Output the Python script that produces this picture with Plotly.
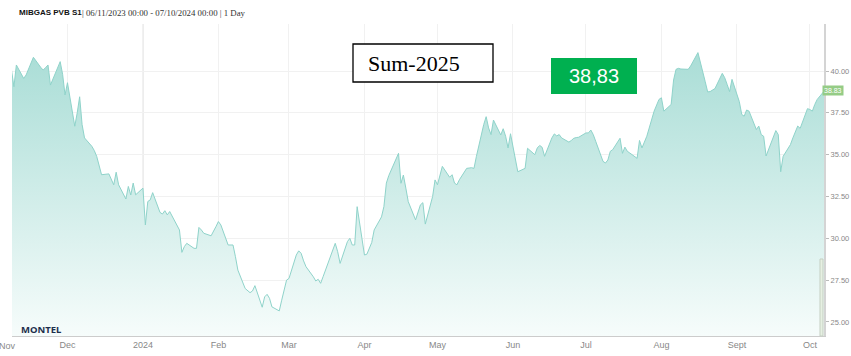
import pandas as pd
import plotly.graph_objects as go

# ---- data, business days per month ----
nov_2023 = [40.06, 39.06, 40.36, 39.56, 39.76, 40.1, 40.5, 40.82, 40.22, 40.06, 40.2, 40.36,
            39.16, 40.3, 40.56, 39.8, 38.57]
dec_2023 = [39.3, 36.7, 37.5, 38.46, 36.8, 36.0, 35.5, 35.25, 34.9, 34.3, 33.8, 33.85, 33.5,
            33.2, 33.95, 33.2, 32.35, 33.1, 32.59, 33.3, 32.6]
jan_2024 = [33.0, 30.8, 32.2, 32.3, 32.73, 31.55, 31.45, 31.65, 31.4, 31.6, 30.7, 30.5, 29.16,
            29.5, 29.7, 29.4, 29.4, 30.65, 30.5, 30.3, 30.15, 30.4, 30.7]
feb_2024 = [31.0, 30.8, 29.6, 29.6, 29.6, 28.9, 28.1, 27.0, 26.9, 26.75, 26.85, 27.17, 25.88,
            26.5, 26.65, 26.41, 25.9, 25.66, 26.3, 26.9, 27.5]
mar_2024 = [27.6, 29.0, 29.25, 29.1, 28.65, 28.3, 27.7, 27.45, 27.55, 27.31, 27.7, 28.95, 29.35,
            29.7, 29.2, 28.5, 29.8, 30.0, 29.6, 29.6, 31.89]
apr_2024 = [29.0, 29.05, 29.4, 29.75, 30.5, 31.28, 31.9, 33.3, 33.75, 34.1, 35.08, 33.29, 33.78,
            33.0, 32.19, 31.1, 31.5, 32.0, 32.13, 30.85, 32.5, 33.49]
may_2024 = [33.2, 33.7, 34.3, 33.65, 33.8, 33.3, 33.2, 33.5, 34.18, 34.2, 34.22, 34.18, 34.9,
            36.8, 37.27, 36.6, 36.2, 37.07, 36.18, 36.55, 36.1, 35.4, 36.25]
jun_2024 = [33.98, 34.05, 34.1, 34.18, 35.38, 35.0, 35.4, 35.55, 35.44, 34.9, 36.0, 36.24, 36.12,
            36.2, 36.0, 35.75, 35.85, 35.98, 36.02, 36.04]
jul_2024 = [36.3, 36.3, 36.47, 36.2, 35.8, 34.6, 34.5, 34.68, 35.2, 35.3, 35.98, 35.08, 35.45,
            35.2, 35.1, 34.78, 35.85, 35.4, 35.75, 36.1, 37.6, 37.9, 38.3]
aug_2024 = [38.4, 37.6, 38.0, 39.46, 40.1, 40.16, 40.12, 40.1, 40.3, 40.6, 40.86, 41.1, 39.36,
            38.75, 38.77, 38.85, 38.95, 39.86, 39.6, 39.2, 38.77, 39.5]
sep_2024 = [38.17, 37.4, 37.3, 37.67, 37.6, 36.5, 36.71, 36.2, 36.1, 34.92, 36.08, 36.44, 36.2,
            33.98, 34.9, 35.6, 36.0, 36.4, 36.71, 36.57, 37.75]
oct_2024 = [37.7, 37.6, 38.0, 38.3, 38.83]

month_windows = [("2023-11-08", "2023-11-30"), ("2023-12-01", "2023-12-31"),
                 ("2024-01-01", "2024-01-31"), ("2024-02-01", "2024-02-29"),
                 ("2024-03-01", "2024-03-31"), ("2024-04-01", "2024-04-30"),
                 ("2024-05-01", "2024-05-31"), ("2024-06-01", "2024-06-30"),
                 ("2024-07-01", "2024-07-31"), ("2024-08-01", "2024-08-31"),
                 ("2024-09-01", "2024-09-30"), ("2024-10-01", "2024-10-07")]
month_values = [nov_2023, dec_2023, jan_2024, feb_2024, mar_2024, apr_2024, may_2024,
                jun_2024, jul_2024, aug_2024, sep_2024, oct_2024]

tick_dates = ["2023-12-01", "2024-01-01", "2024-02-01", "2024-03-01", "2024-04-01",
              "2024-05-01", "2024-06-01", "2024-07-01", "2024-08-01", "2024-09-01", "2024-10-01"]
tick_text = ["Dec", "2024", "Feb", "Mar", "Apr", "May", "Jun", "Jul", "Aug", "Sept", "Oct"]
y_ticks = [25.0, 27.5, 30.0, 32.5, 35.0, 37.5, 40.0]

last_value = 38.83
title_bold = "MIBGAS PVB S1"
title_rest = "| 06/11/2023 00:00 - 07/10/2024 00:00 | 1 Day"
product_label = "Sum-2025"
price_label = "38,83"

dates, values = [], []
for (s, e), vals in zip(month_windows, month_values):
    d = pd.bdate_range(s, e)
    assert len(d) == len(vals), (s, len(d), len(vals))
    dates += list(d)
    values += vals

fig = go.Figure()
fig.add_trace(go.Scatter(
    x=dates, y=values, mode="lines",
    line=dict(color="#8fd3ca", width=1),
    fill="tozeroy",
    fillgradient=dict(type="vertical", start=24.16, stop=41.2,
                      colorscale=[[0, "#f6fcfb"], [1, "#a9ddd6"]]),
    hoverinfo="skip", showlegend=False,
))

fig.update_layout(
    width=851, height=356,
    margin=dict(l=12, r=27, t=24, b=20, autoexpand=False),
    paper_bgcolor="white", plot_bgcolor="white",
    xaxis=dict(
        type="date", automargin=False,
        range=["2023-11-08 05:00", "2024-10-06 19:00"],
        tickvals=tick_dates, ticktext=tick_text,
        tickfont=dict(family="Liberation Sans, Arial", size=9, color="#888888"),
        showgrid=True, gridcolor="#f1f1f1", gridwidth=1,
        showline=True, linecolor="#cccccc", linewidth=1,
        ticks="", zeroline=False,
    ),
    yaxis=dict(
        side="right", automargin=False,
        range=[24.16, 42.81],
        tickvals=y_ticks, ticktext=[f"{v:.2f}" for v in y_ticks],
        tickfont=dict(family="Liberation Sans, Arial", size=7.5, color="#888888"),
        ticks="outside", ticklen=3, tickcolor="#bbbbbb",
        showgrid=True, gridcolor="#f1f1f1", gridwidth=1,
        showline=True, linecolor="#d4d4d4", linewidth=2,
        zeroline=False,
    ),
)

px = lambda v: (v - 12) / 812.0
py = lambda v: (336 - v) / 312.0

shapes = [
    dict(type="line", xref="x", yref="paper", x0="2024-01-01", x1="2024-01-01", y0=0, y1=1,
         line=dict(color="#d6d6d6", width=1), layer="below"),
    dict(type="rect", xref="paper", yref="paper", x0=px(353), x1=px(493), y0=py(82), y1=py(44),
         line=dict(color="black", width=1.3), fillcolor="white"),
    dict(type="rect", xref="paper", yref="paper", x0=px(551), x1=px(637), y0=py(94), y1=py(58),
         line=dict(width=0), fillcolor="#00b050"),
    dict(type="rect", xref="paper", yref="paper", x0=px(820), x1=px(823), y0=0, y1=py(259),
         line=dict(color="#c5cfc2", width=1), fillcolor="#e6f0e2"),
]
fig.update_layout(shapes=shapes)

ann = [
    dict(text="<b>" + title_bold + "</b>", x=px(17), y=py(13), xanchor="left", yanchor="middle",
         font=dict(family="Liberation Sans, Arial", size=8, color="#111111")),
    dict(text=title_rest, x=px(80), y=py(13), xanchor="left", yanchor="middle",
         font=dict(family="Liberation Serif, Times New Roman", size=8.8, color="#333333")),
    dict(text=product_label, x=px(414), y=py(63), xanchor="center", yanchor="middle",
         font=dict(family="Liberation Serif, Times New Roman", size=22, color="black")),
    dict(text=price_label, x=px(594), y=py(76), xanchor="center", yanchor="middle",
         font=dict(family="Liberation Sans, Arial", size=20, color="white")),
    dict(text="<b>MONTEL</b>", x=px(19), y=py(329), xanchor="left", yanchor="middle",
         font=dict(family="Noto Sans, Liberation Sans", size=9.5, color="#1d2f4d")),
    dict(text="Nov", x=px(7), y=py(346), xanchor="center", yanchor="middle",
         font=dict(family="Liberation Sans, Arial", size=9, color="#888888")),
    dict(text=f"{last_value:.2f}", xref="paper", yref="y", x=px(833), y=last_value,
         xanchor="center", yanchor="middle", bgcolor="#95cc86", borderpad=1,
         font=dict(family="Liberation Sans, Arial", size=7, color="white")),
]
for a in ann:
    a.setdefault("xref", "paper")
    a.setdefault("yref", "paper")
    a["showarrow"] = False
fig.update_layout(annotations=ann)

fig.write_html("out.html",
               config={"displayModeBar": False},
               post_script="document.body.style.margin='0';document.body.style.overflow='hidden';")
